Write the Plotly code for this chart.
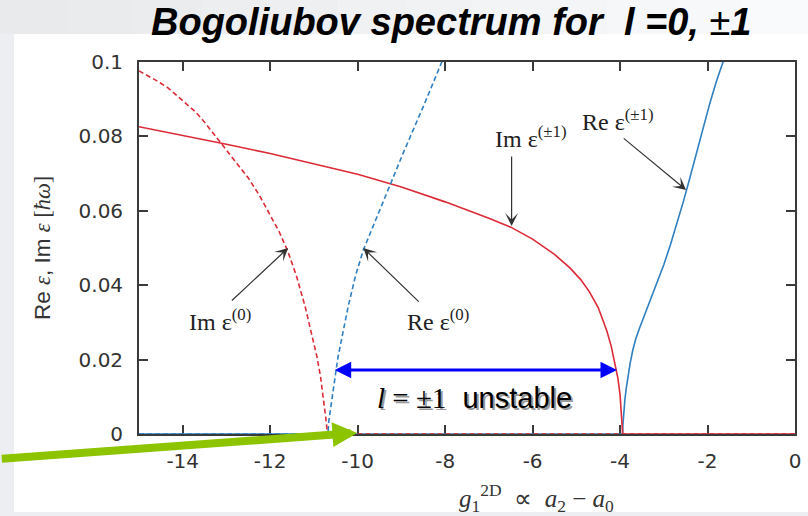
import plotly.graph_objects as go

# ---- spectrum branches (x = g1^2D, y = energy in units of hbar*omega) ----
# Re eps^(+-1): zero until the l=+-1 instability ends, then rises
x_re_pm1 = [-15, -3.94, -3.935, -3.925, -3.91, -3.89, -3.86, -3.82, -3.77, -3.71, -3.64,
            -3.56, -3.47, -3.37, -3.26, -3.14, -3.0, -2.85, -2.7, -2.55, -2.4, -2.25,
            -2.1, -1.95, -1.8, -1.65, -1.5]
y_re_pm1 = [0, 0, 0.0025, 0.0045, 0.0068, 0.0092, 0.0122, 0.0155, 0.0190, 0.0225, 0.0256,
            0.0283, 0.0310, 0.0340, 0.0373, 0.0410, 0.0455, 0.0508, 0.0565, 0.0626, 0.0690,
            0.0758, 0.0825, 0.0888, 0.0947, 0.1, 0.105]

# Im eps^(+-1): finite inside the unstable window, zero afterwards
x_im_pm1 = [-15, -14, -13, -12, -11, -10, -9, -8, -7, -6.5, -6, -5.5, -5.14, -4.9, -4.7,
            -4.5, -4.39, -4.3, -4.2, -4.11, -4.05, -4.0, -3.97, -3.94, 0]
y_im_pm1 = [0.0826, 0.0803, 0.0779, 0.0754, 0.0727, 0.0698, 0.0664, 0.0624, 0.0580, 0.0556,
            0.0524, 0.0483, 0.0446, 0.0415, 0.0382, 0.0340, 0.0305, 0.0276, 0.0235, 0.0180,
            0.0150, 0.0105, 0.0060, 0, 0]

# Re eps^(0)
x_re_0 = [-15, -10.68, -10.66, -10.62, -10.59, -10.52, -10.45, -10.35, -10.22, -10.05,
          -9.87, -9.6, -9.3, -8.96, -8.5, -8.07, -7.9]
y_re_0 = [0, 0, 0.0035, 0.0070, 0.0099, 0.0155, 0.0207, 0.0265, 0.0341, 0.0425,
          0.0495, 0.0572, 0.0658, 0.0755, 0.0880, 0.1, 0.105]

# Im eps^(0)
x_im_0 = [-15, -14.6, -14.33, -14, -13.71, -13.5, -13.12, -12.8, -12.5, -12.25, -12.05,
          -11.8, -11.6, -11.4, -11.2, -11.05, -10.93, -10.85, -10.79, -10.74, -10.71, -10.7, 0]
y_im_0 = [0.0976, 0.0950, 0.0930, 0.0896, 0.0866, 0.0838, 0.0782, 0.0735, 0.0688, 0.0642,
          0.0597, 0.0545, 0.0492, 0.0425, 0.0342, 0.0270, 0.0207, 0.0155, 0.0099, 0.0055,
          0.0025, 0, 0]

x_ticks = [-14, -12, -10, -8, -6, -4, -2, 0]
x_tick_labels = ["-14", "-12", "-10", "-8", "-6", "-4", "-2", "0"]
y_ticks = [0, 0.02, 0.04, 0.06, 0.08, 0.1]
y_tick_labels = ["0", "0.02", "0.04", "0.06", "0.08", "0.1"]

RED = "#dc2a36"
BLUE = "#2f7fc1"
GREEN = "#8cc400"
AX = "#3a3a3a"
SERIF = "Liberation Serif"
SANS = "Liberation Sans"

fig = go.Figure()
fig.add_trace(go.Scatter(x=x_re_pm1, y=y_re_pm1, mode="lines",
                         line=dict(color=BLUE, width=1.6)))
fig.add_trace(go.Scatter(x=x_im_pm1, y=y_im_pm1, mode="lines",
                         line=dict(color=RED, width=1.6)))
fig.add_trace(go.Scatter(x=x_re_0, y=y_re_0, mode="lines",
                         line=dict(color=BLUE, width=1.6, dash="5px,3px")))
fig.add_trace(go.Scatter(x=x_im_0, y=y_im_0, mode="lines",
                         line=dict(color=RED, width=1.6, dash="5px,3px")))

# page background: grey surround, gradient band at top, white slide panel
shapes = []
n_band = 12
for i in range(n_band):
    t = i / (n_band - 1)
    g = int(232 + t * 16)
    shapes.append(dict(type="rect", xref="paper", yref="paper", layer="below",
                       x0=-0.213 + i * (1.235 / n_band), x1=-0.213 + (i + 1) * (1.235 / n_band),
                       y0=1.075, y1=1.17, line=dict(width=0),
                       fillcolor=f"rgb({g},{g + 2},{min(g + 4, 255)})"))
shapes.append(dict(type="rect", xref="paper", yref="paper", layer="below",
                   x0=-0.1905, x1=1.03, y0=-0.2097, y1=1.0753,
                   fillcolor="white", line=dict(width=0)))

ann = []
# title
ann.append(dict(xref="paper", yref="paper", x=0.4756, y=1.1075, xanchor="center",
                yanchor="middle", showarrow=False,
                text="<b><i>Bogoliubov spectrum for  l =0, </i></b>±<b><i>1</i></b>",
                font=dict(family=SANS, size=38, color="black")))
# y-axis title
ann.append(dict(xref="paper", yref="paper", x=-0.148, y=0.5, xanchor="center",
                yanchor="middle", showarrow=False, textangle=-90,
                text=(f"Re <span style='font-family:{SERIF}'><i>ε</i></span>, "
                      f"Im <span style='font-family:{SERIF}'><i>ε</i> [<i>ħω</i>]</span>"),
                font=dict(family=SANS, size=22.5, color="#333")))
# x-axis title
ann.append(dict(xref="x", yref="paper", x=-5.92, y=-0.172, xanchor="center",
                yanchor="middle", showarrow=False,
                text="<i>g</i><sub>1</sub><sup>2D</sup>  ∝  <i>a</i><sub>2</sub> − <i>a</i><sub>0</sub>",
                font=dict(family=SERIF, size=25, color="#333")))

# branch labels
for txt, lx, ly in [("Im ε<sup>(±1)</sup>", -6.03, 0.0798),
                    ("Re ε<sup>(±1)</sup>", -4.05, 0.0844),
                    ("Im ε<sup>(0)</sup>", -13.14, 0.0306),
                    ("Re ε<sup>(0)</sup>", -8.16, 0.0306)]:
    ann.append(dict(xref="x", yref="y", x=lx, y=ly, xanchor="center", yanchor="middle",
                    showarrow=False, text=txt,
                    font=dict(family=SERIF, size=24, color="#222")))

# pointer arrows from labels to curves (tail -> tip)
for tx, ty, hx, hy in [(-6.48, 0.0750, -6.48, 0.0559),
                       (-3.95, 0.0798, -2.49, 0.0656),
                       (-12.91, 0.0355, -11.59, 0.0500),
                       (-8.57, 0.0352, -9.87, 0.0500)]:
    ann.append(dict(xref="x", yref="y", axref="x", ayref="y", x=hx, y=hy, ax=tx, ay=ty,
                    text="", showarrow=True, arrowhead=3, arrowsize=1.8, arrowwidth=1.2,
                    arrowcolor="#333"))

# unstable window double arrow
ann.append(dict(xref="x", yref="y", axref="x", ayref="y", x=-4.07, y=0.0172,
                ax=-10.56, ay=0.0172, text="", showarrow=True, arrowside="end+start",
                arrowhead=2, arrowsize=1.1, arrowwidth=3, arrowcolor="#0000ff"))
unstable_txt = (f"<span style='font-family:{SERIF}'><i>l</i> = ±1</span>  unstable")
ann.append(dict(xref="x", yref="y", x=-7.34, y=0.0097, xshift=2, yshift=-2,
                xanchor="center", yanchor="middle", showarrow=False,
                text=unstable_txt, font=dict(family=SANS, size=29, color="#9a9a9a")))
ann.append(dict(xref="x", yref="y", x=-7.34, y=0.0097, xanchor="center", yanchor="middle",
                showarrow=False, text=unstable_txt,
                font=dict(family=SANS, size=29, color="black")))

# green pointer to the onset of the instability
ann.append(dict(xref="x", yref="y", x=-10.01, y=0.0003, axref="pixel", ayref="pixel",
                ax=-357, ay=26, text="", showarrow=True, arrowhead=2, arrowsize=0.62,
                arrowwidth=8, arrowcolor=GREEN))

axis_common = dict(showline=True, mirror="ticks", linecolor=AX, linewidth=1.8,
                   ticks="inside", ticklen=9, tickwidth=1.5, tickcolor=AX,
                   showgrid=False, zeroline=False, layer="below traces",
                   tickfont=dict(family="DejaVu Sans", size=20, color="#333"))

fig.update_layout(
    width=808, height=516,
    margin=dict(l=139, r=13, t=62, b=82, autoexpand=False),
    paper_bgcolor="#eceef1", plot_bgcolor="white",
    showlegend=False,
    shapes=shapes, annotations=ann,
    xaxis=dict(range=[-15, 0], tickvals=x_ticks, ticktext=x_tick_labels,
               ticklabelstandoff=8, **axis_common),
    yaxis=dict(range=[0, 0.1], tickvals=y_ticks, ticktext=y_tick_labels,
               ticklabelstandoff=10, **axis_common),
)

fig.write_html("out.html")
